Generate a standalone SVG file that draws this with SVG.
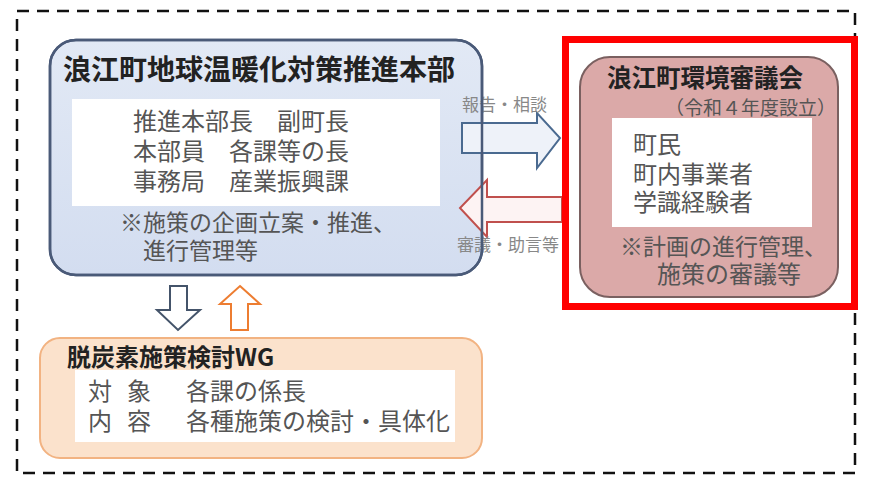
<svg xmlns="http://www.w3.org/2000/svg" width="886" height="493" viewBox="0 0 886 493">
<defs>
<style>
text{font-family:"Noto Sans CJK JP","Noto Sans CJK SC",sans-serif;}
.title{font-weight:bold;fill:#222;}
.body{fill:#555;}
.lbl{fill:#888;font-size:17px;}
</style>
<linearGradient id="blueG" x1="0" y1="0" x2="0" y2="1">
<stop offset="0" stop-color="#e2e9f5"/><stop offset="1" stop-color="#d3ddf0"/>
</linearGradient>
</defs>
<rect x="17" y="11" width="838" height="462" fill="none" stroke="#111" stroke-width="2.5" stroke-dasharray="12,8"/>

<g id="honbu">
<rect x="50" y="40" width="432" height="235" rx="26" fill="url(#blueG)" stroke="#4a5a78" stroke-width="2.5"/>
<rect x="72" y="99" width="368" height="107" fill="#fff"/>
<text class="title" x="63" y="80" font-size="28">浪江町地球温暖化対策推進本部</text>
<text class="body" font-size="24"><tspan x="133" y="130">推進本部長　副町長</tspan><tspan x="133" y="160">本部員　各課等の長</tspan><tspan x="133" y="190">事務局　産業振興課</tspan></text>
<text class="body" font-size="23"><tspan x="120" y="231">※施策の企画立案・推進、</tspan><tspan x="143" y="259">進行管理等</tspan></text>
</g>

<g id="connectors">
<path d="M462,123 H537 V113 L560,138 L537,168 V153 H462 Z" fill="#eef2f9" stroke="#4a6a90" stroke-width="2"/>
<path d="M562,197 H487 V180 L460,208 L487,237 V222 H562 Z" fill="#fdf3f3" stroke="#c0504d" stroke-width="2"/>
<path d="M170,286 H187 V310 H200 L178,330 L157,310 H170 Z" fill="#fff" stroke="#44546a" stroke-width="2"/>
<path d="M240,286 L260,304 H248 V330 H231 V304 H220 Z" fill="#fff" stroke="#ed7d31" stroke-width="2"/>
<text class="lbl" x="462" y="111">報告・相談</text>
<text class="lbl" x="457" y="251">審議・助言等</text>
</g>
<rect x="50" y="40" width="432" height="235" rx="26" fill="none" stroke="#4a5a78" stroke-width="2.5"/>

<g id="shingikai">
<rect x="580" y="57" width="258" height="240" rx="30" fill="#dba9a8" stroke="#7a6060" stroke-width="2"/>
<rect x="612" y="118" width="200" height="109" fill="#fff"/>
<text class="title" x="607" y="87" font-size="24.5">浪江町環境審議会</text>
<text class="body" x="836" y="115" font-size="19" text-anchor="end">（令和４年度設立）</text>
<text class="body" font-size="24"><tspan x="633" y="153">町民</tspan><tspan x="633" y="183">町内事業者</tspan><tspan x="633" y="211">学識経験者</tspan></text>
<text class="body" x="620" y="255" font-size="23">※計画の進行管理、</text>
<text class="body" x="657" y="283" font-size="24">施策の審議等</text>
</g>
<rect id="highlight" x="565.5" y="39.5" width="289" height="267" fill="none" stroke="#f00" stroke-width="7"/>

<g id="wg">
<rect x="40" y="338" width="442" height="120" rx="20" fill="#fbe2cc" stroke="#f2b382" stroke-width="2"/>
<rect x="75" y="370" width="380" height="72" fill="#fff"/>
<text class="title" x="67" y="366" font-size="24">脱炭素施策検討WG</text>
<text class="body" font-size="24"><tspan x="88" y="400">対</tspan><tspan x="127" y="400">象</tspan><tspan x="186" y="400">各課の係長</tspan></text>
<text class="body" font-size="24"><tspan x="88" y="430">内</tspan><tspan x="127" y="430">容</tspan><tspan x="186" y="430">各種施策の検討・具体化</tspan></text>
</g>
</svg>
